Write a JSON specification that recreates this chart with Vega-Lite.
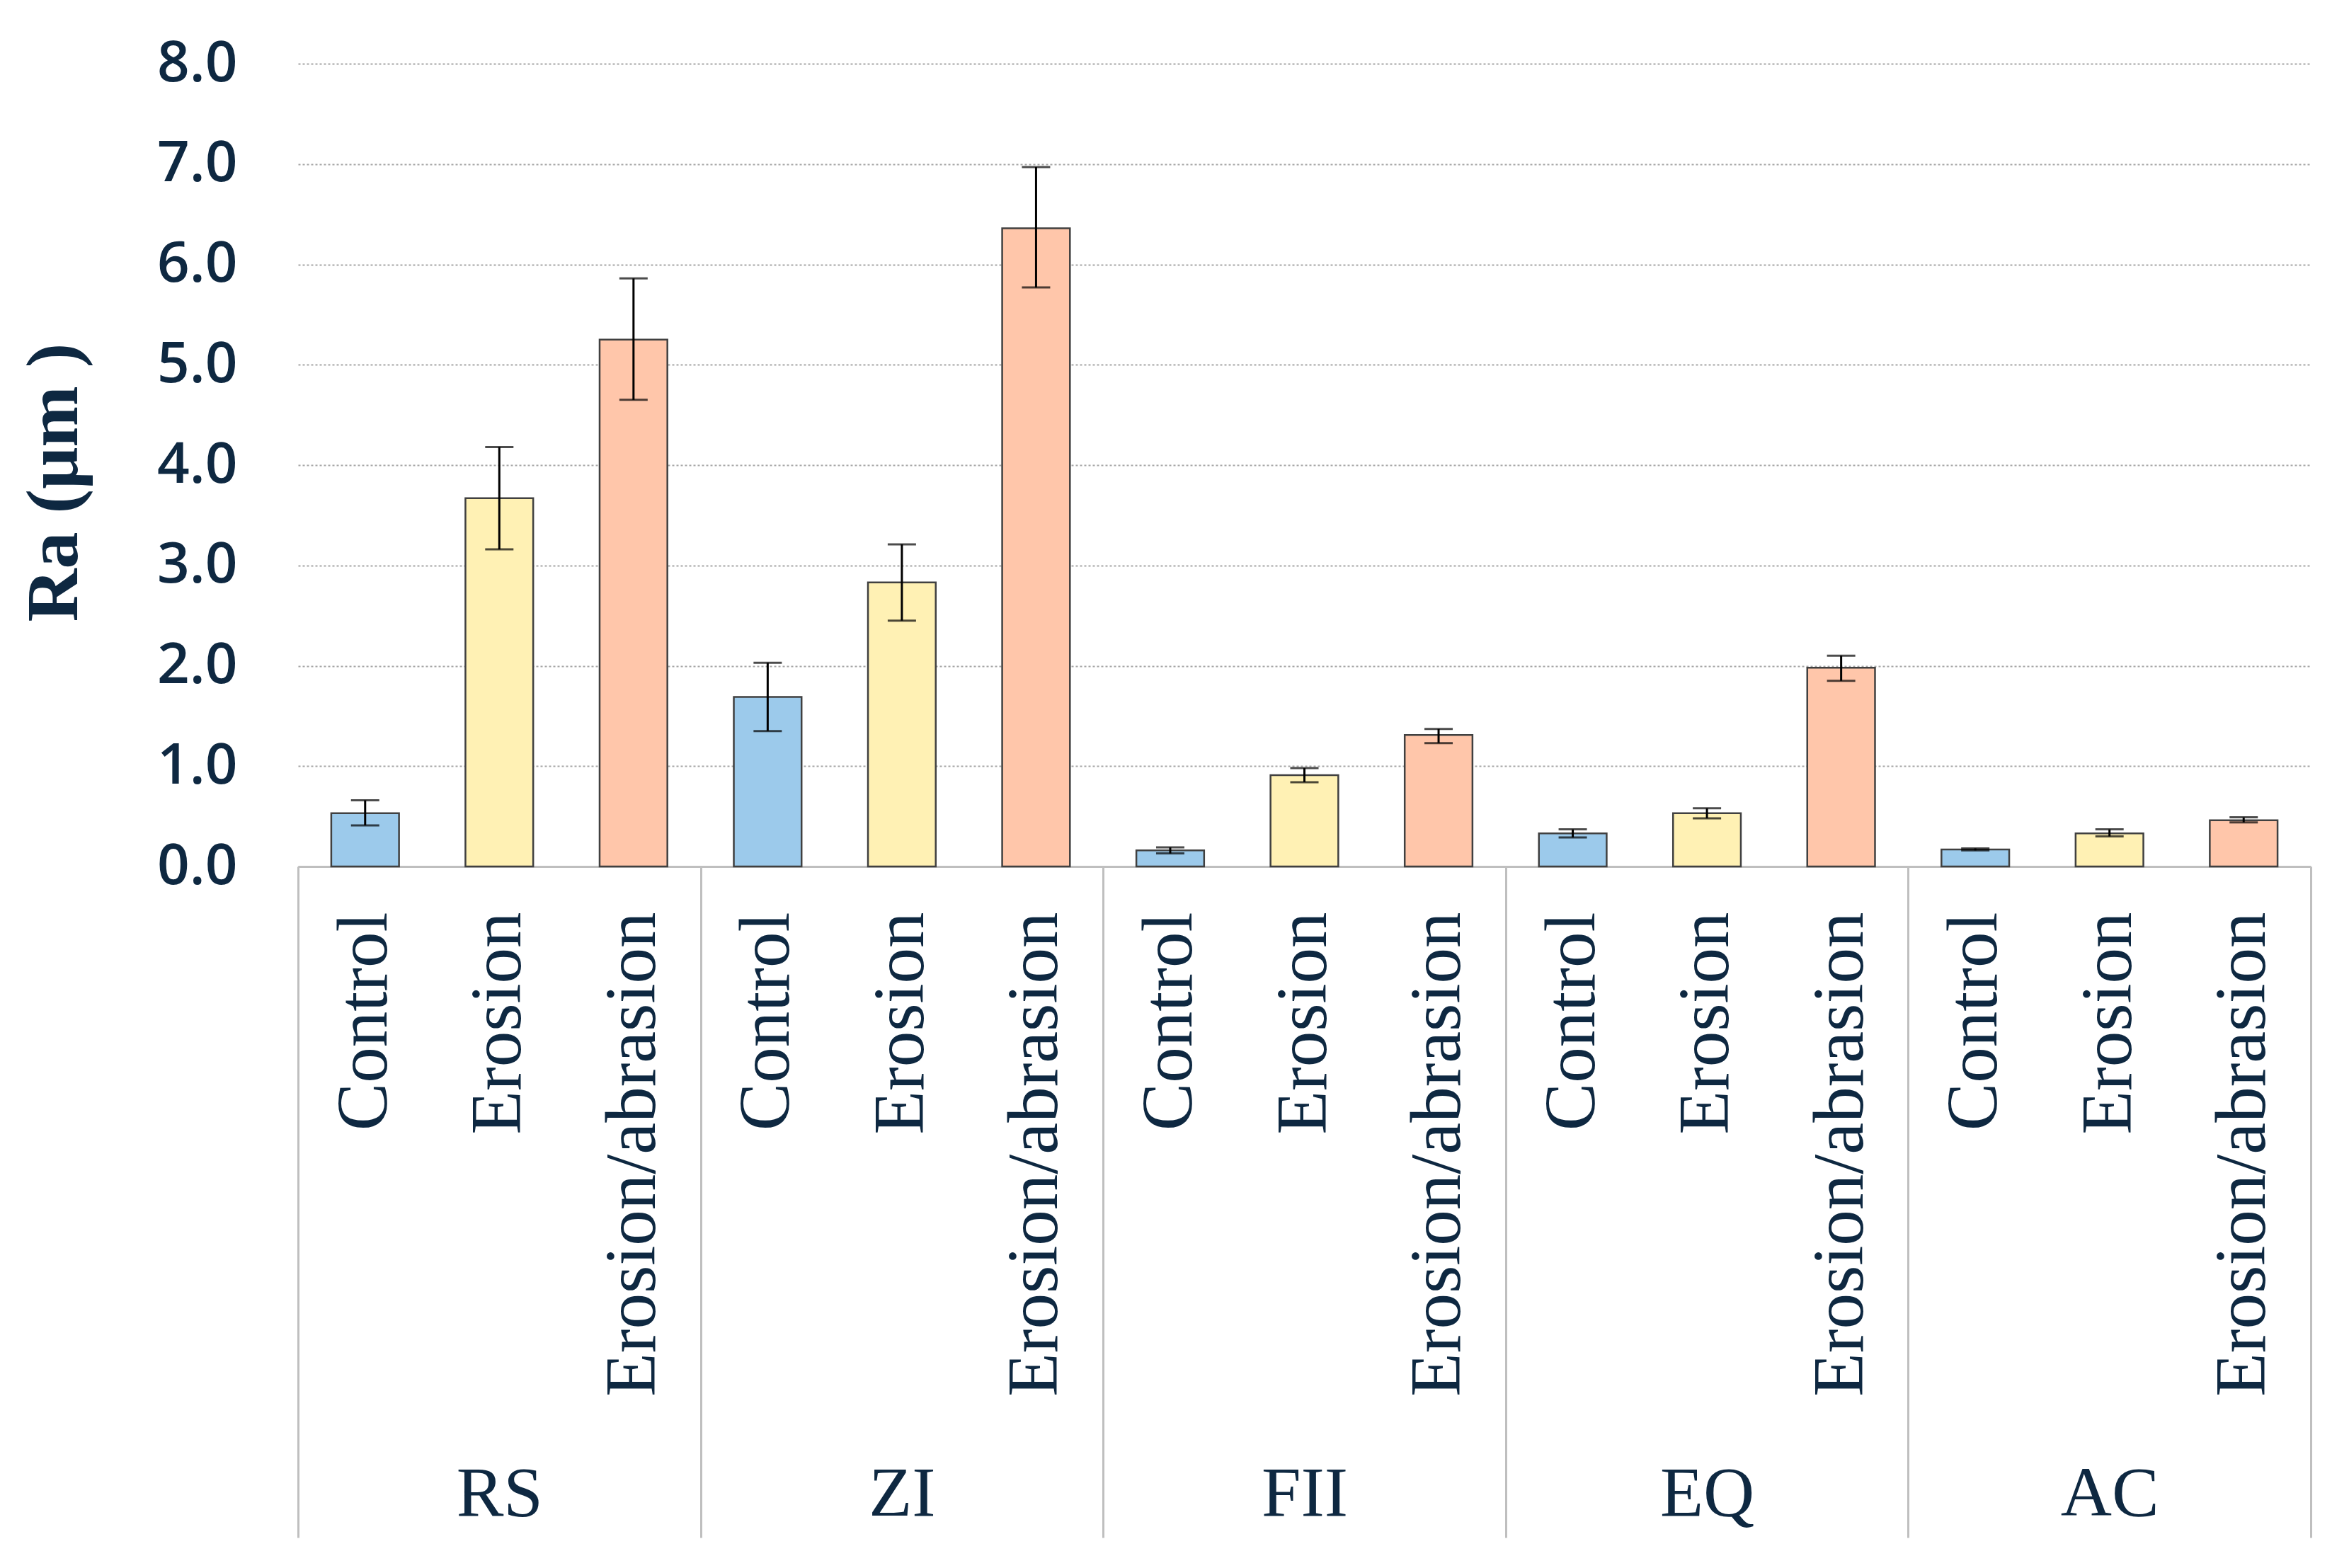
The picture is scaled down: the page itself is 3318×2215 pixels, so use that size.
{
  "$schema": "https://vega.github.io/schema/vega-lite/v6.json",
  "width": 2843,
  "height": 1134,
  "autosize": "none",
  "padding": {"left": 421, "top": 90, "right": 54, "bottom": 991},
  "background": "white",
  "config": {"view": {"stroke": null}},
  "data": {
    "values": [
      {"group": "RS", "treatment": "Control", "key": "RS|Control", "ra": 0.53, "lo": 0.41, "hi": 0.66},
      {"group": "RS", "treatment": "Erosion", "key": "RS|Erosion", "ra": 3.67, "lo": 3.16, "hi": 4.18},
      {"group": "RS", "treatment": "Erosion/abrasion", "key": "RS|Erosion/abrasion", "ra": 5.25, "lo": 4.65, "hi": 5.86},
      {"group": "ZI", "treatment": "Control", "key": "ZI|Control", "ra": 1.69, "lo": 1.35, "hi": 2.03},
      {"group": "ZI", "treatment": "Erosion", "key": "ZI|Erosion", "ra": 2.83, "lo": 2.45, "hi": 3.21},
      {"group": "ZI", "treatment": "Erosion/abrasion", "key": "ZI|Erosion/abrasion", "ra": 6.36, "lo": 5.77, "hi": 6.97},
      {"group": "FII", "treatment": "Control", "key": "FII|Control", "ra": 0.16, "lo": 0.13, "hi": 0.19},
      {"group": "FII", "treatment": "Erosion", "key": "FII|Erosion", "ra": 0.91, "lo": 0.84, "hi": 0.98},
      {"group": "FII", "treatment": "Erosion/abrasion", "key": "FII|Erosion/abrasion", "ra": 1.31, "lo": 1.23, "hi": 1.37},
      {"group": "EQ", "treatment": "Control", "key": "EQ|Control", "ra": 0.33, "lo": 0.29, "hi": 0.37},
      {"group": "EQ", "treatment": "Erosion", "key": "EQ|Erosion", "ra": 0.53, "lo": 0.48, "hi": 0.58},
      {"group": "EQ", "treatment": "Erosion/abrasion", "key": "EQ|Erosion/abrasion", "ra": 1.98, "lo": 1.85, "hi": 2.10},
      {"group": "AC", "treatment": "Control", "key": "AC|Control", "ra": 0.17, "lo": 0.16, "hi": 0.18},
      {"group": "AC", "treatment": "Erosion", "key": "AC|Erosion", "ra": 0.33, "lo": 0.30, "hi": 0.37},
      {"group": "AC", "treatment": "Erosion/abrasion", "key": "AC|Erosion/abrasion", "ra": 0.46, "lo": 0.44, "hi": 0.49}
    ]
  },
  "layer": [
    {
      "layer": [
        {
          "mark": {"type": "bar", "width": {"band": 0.505}, "stroke": "#404040", "strokeWidth": 2.5},
          "encoding": {
            "x": {
              "field": "key", "type": "nominal", "sort": null,
              "scale": {"paddingInner": 0, "paddingOuter": 0},
              "axis": {
                "title": null,
                "labelExpr": "split(datum.value, '|')[1]",
                "labelAngle": -90,
                "labelFont": "Liberation Serif",
                "labelFontSize": 101,
                "labelColor": "#0e2841",
                "labelLimit": 2000,
                "labelPadding": 64,
                "ticks": false,
                "tickSize": 0,
                "domainColor": "#bfbfbf",
                "domainWidth": 3,
                "grid": false
              }
            },
            "y": {
              "field": "ra", "type": "quantitative",
              "title": "Ra (μm )",
              "scale": {"domain": [0, 8], "nice": false},
              "axis": {
                "title": "Ra (μm )",
                "values": [0, 1, 2, 3, 4, 5, 6, 7, 8],
                "format": ".1f",
                "domain": false,
                "ticks": false,
                "labelFont": "Open Sans",
                "labelFontSize": 80,
                "labelFontWeight": 600,
                "labelColor": "#0e2841",
                "labelPadding": 86,
                "grid": true,
                "gridColor": "#a6a6a6",
                "gridDash": [3, 3],
                "gridWidth": 2,
                "titleFont": "Liberation Serif",
                "titleFontSize": 104,
                "titleFontWeight": "bold",
                "titleColor": "#0e2841",
                "titleBaseline": "alphabetic",
                "titleX": -313,
                "titleY": 591
              }
            },
            "color": {
              "field": "treatment", "type": "nominal",
              "scale": {"domain": ["Control", "Erosion", "Erosion/abrasion"], "range": ["#9CCAEB", "#FFF1B4", "#FFC6AA"]},
              "legend": null
            }
          }
        },
        {
          "mark": {
            "type": "errorbar",
            "color": "black",
            "ticks": {"size": 40, "thickness": 3, "color": "black"},
            "rule": {"strokeWidth": 3, "color": "black"}
          },
          "encoding": {
            "x": {"field": "key", "type": "nominal", "sort": null},
            "y": {"field": "lo", "type": "quantitative", "title": "Ra (μm )"},
            "y2": {"field": "hi"}
          }
        }
      ]
    },
    {
      "mark": {"type": "text", "opacity": 0},
      "encoding": {
        "x": {
          "field": "group", "type": "nominal", "sort": null,
          "scale": {"paddingInner": 0, "paddingOuter": 0},
          "axis": {
            "title": null,
            "orient": "bottom",
            "offset": 0,
            "domain": false,
            "grid": false,
            "ticks": true,
            "tickBand": "extent",
            "tickSize": 948,
            "tickColor": "#bfbfbf",
            "tickWidth": 3,
            "labelAngle": 0,
            "labelFont": "Liberation Serif",
            "labelFontSize": 100,
            "labelColor": "#0e2841",
            "labelBaseline": "alphabetic",
            "labelPadding": -32
          }
        },
        "text": {"value": ""}
      }
    }
  ],
  "resolve": {"scale": {"x": "independent"}, "axis": {"x": "independent"}}
}
